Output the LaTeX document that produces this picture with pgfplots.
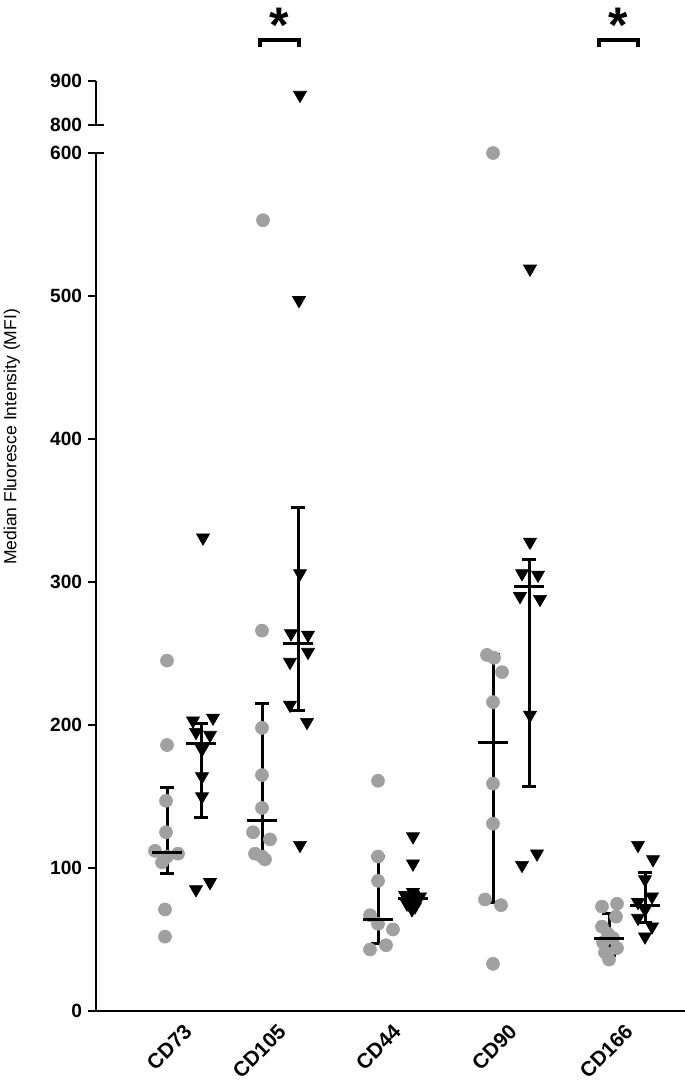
\documentclass[border=0pt]{standalone}
\usepackage{fontspec}
\setmainfont{Liberation Sans}
\usepackage{pgfplots}
\usepackage{pgfplotstable}
\pgfplotsset{compat=1.18}
\definecolor{dotgray}{RGB}{160,160,160}

% points, x = column position
\pgfplotstableread{
x y
1.67 245
1.67 186
1.66 147
1.66 125
1.55 112
1.78 110
1.67 108
1.62 104
1.65 71
1.65 52
2.63 553
2.62 266
2.62 198
2.62 165
2.62 142
2.53 125
2.70 120
2.55 110
2.62 108
2.65 106
3.78 161
3.78 108
3.78 91
3.70 67
3.78 61
3.93 57
3.86 46
3.70 43
4.93 600
4.87 249
4.94 247
5.02 237
4.93 216
4.93 159
4.93 131
4.85 78
5.01 74
4.93 33
6.17 75
6.02 73
6.16 66
6.02 59
6.08 54
6.13 51
6.03 48
6.17 44
6.05 41
6.09 36
}\grayPts

\pgfplotstableread{
x y
2.03 331
2.13 205
1.93 203
1.96 195
2.10 193
2.02 183
2.02 164
2.02 150
2.10 90
1.96 85
2.99 497
3.00 306
2.91 264
3.08 263
3.08 251
2.90 244
2.90 214
3.07 202
3.00 116
4.13 122
4.13 103
4.13 83
4.05 81
4.20 80
4.10 78
4.17 77
4.07 75
4.15 73
4.12 71
5.30 519
5.30 328
5.22 306
5.38 305
5.20 290
5.40 288
5.30 207
5.37 110
5.22 102
6.38 116
6.53 106
6.45 92
6.52 80
6.38 76
6.45 71
6.38 65
6.52 59
6.45 52
}\triPts

% median with interquartile range
\pgfplotstableread{
x y ep em
1.67 111 45 15
2.62 133 82 24
3.78 64 44 17
4.93 188 61 112
6.09 51 17 12
}\grayMed

\pgfplotstableread{
x y ep em
2.01 187 14 52
2.98 257 95 47
4.13 79 4 5
5.29 297 19 140
6.45 74 23 12
}\triMed

\pgfplotsset{
  mfi/.style={
    scale only axis, width=353.4pt,
    xmin=0.96, xmax=6.85, clip=false,
    axis line style={line width=1.2pt},
    tick style={line width=1.2pt, black},
    tick align=outside, major tick length=4.8pt,
    /pgf/number format/assume math mode=true,
    yticklabel style={font=\fontsize{11.5}{13}\selectfont\bfseries},
  },
  medbar/.style={
    only marks, black, mark=-, mark size=9pt,
    every mark/.append style={line width=1.8pt},
    error bars/y dir=both, error bars/y explicit,
    error bars/error bar style={line width=1.8pt, black},
    error bars/error mark options={rotate=90, line width=1.8pt, mark size=4pt},
  },
}

\begin{document}
\begin{tikzpicture}
\begin{axis}[mfi,
  at={(0,0)}, anchor=south west,
  height=514.8pt,
  ymin=0, ymax=600, ytick={0,100,...,600},
  axis x line*=bottom, axis y line*=left,
  xtick={1.87,2.81,3.96,5.12,6.28},
  xticklabels={CD73,CD105,CD44,CD90,CD166},
  xtick style={draw=none},
  xticklabel style={rotate=45, anchor=north east, yshift=3.5pt,
    font=\fontsize{12.5}{14}\selectfont\bfseries},
  ylabel={Median Fluoresce Intensity (MFI)},
  ylabel style={at={(axis description cs:-0.143,0.669)}, anchor=center,
    font=\fontsize{10.5}{12}\selectfont},
]
\addplot[only marks, mark=*, mark size=3.9pt, color=dotgray]
  table[x=x,y=y] {\grayPts};
\addplot[medbar] table[x=x, y=y, y error plus=ep, y error minus=em] {\grayMed};
\addplot[medbar] table[x=x, y=y, y error plus=ep, y error minus=em] {\triMed};
\addplot[only marks, mark=triangle*, mark size=4.5pt, color=black,
  mark options={rotate=180}] table[x=x,y=y] {\triPts};
\draw[line width=1.2pt] (axis cs:0.96,600) -- ([xshift=4.8pt]axis cs:0.96,600);
\end{axis}

\begin{axis}[mfi,
  at={(0,531.6pt)}, anchor=south west,
  height=26.4pt,
  ymin=800, ymax=900, ytick={800,900},
  axis y line*=left, hide x axis,
]
\addplot[only marks, mark=triangle*, mark size=4.5pt, color=black,
  mark options={rotate=180}] coordinates {(3.00,868)};
\draw[line width=1.2pt] (axis cs:0.96,800) -- ([xshift=4.8pt]axis cs:0.96,800);
\draw[line width=2.2pt] (axis cs:2.60,977) |- (axis cs:2.99,993) -- (axis cs:2.99,977);
\draw[line width=2.2pt] (axis cs:5.99,977) |- (axis cs:6.38,993) -- (axis cs:6.38,977);
\node[font=\fontsize{30}{30}\selectfont\bfseries, inner sep=0pt]
  at (axis cs:2.795,1027) {*};
\node[font=\fontsize{30}{30}\selectfont\bfseries, inner sep=0pt]
  at (axis cs:6.185,1027) {*};
\end{axis}

\pgfresetboundingbox
\useasboundingbox (-57.6pt,-43.8pt) rectangle (353.4pt,606.6pt);
\end{tikzpicture}
\end{document}
